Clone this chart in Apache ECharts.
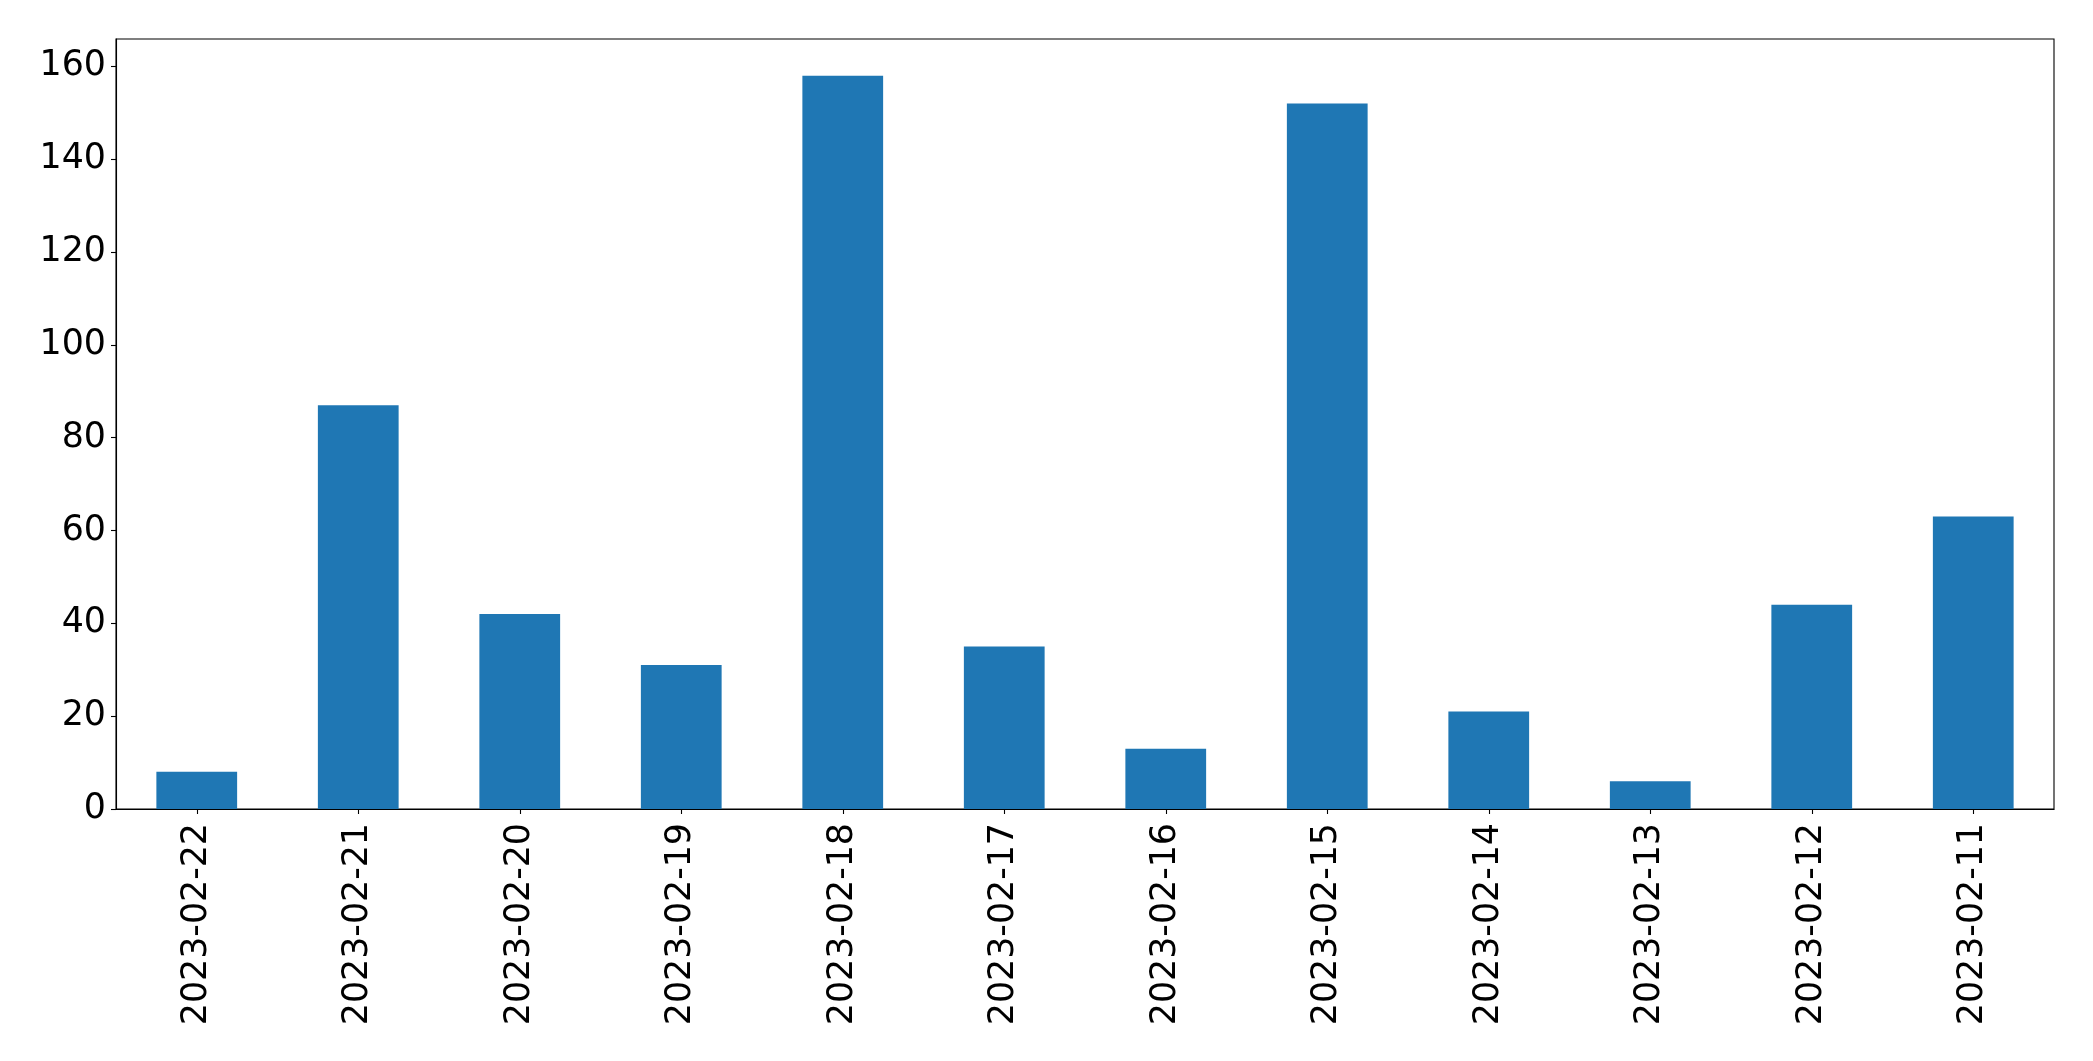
<!DOCTYPE html>
<html>
<head>
<meta charset="utf-8">
<script src="https://cdn.jsdelivr.net/npm/echarts@6/dist/echarts.min.js"></script>
<style>
html,body{margin:0;padding:0;background:#fff;}
#chart{width:2093px;height:1061px;}
</style>
</head>
<body>
<div id="chart"></div>
<script>
const categories = ['2023-02-22','2023-02-21','2023-02-20','2023-02-19','2023-02-18','2023-02-17','2023-02-16','2023-02-15','2023-02-14','2023-02-13','2023-02-12','2023-02-11'];
const values = [8, 87, 42, 31, 158, 35, 13, 152, 21, 6, 44, 63];
const yTicks = [0, 20, 40, 60, 80, 100, 120, 140, 160];
const yMax = 165.9;

const chart = echarts.init(document.getElementById('chart'), null, {renderer: 'canvas'});
const font = 'DejaVu Sans';
chart.setOption({
  animation: false,
  grid: {left: 116, right: 39, top: 39, bottom: 252, show: true, borderColor: '#000', borderWidth: 1.1, backgroundColor: 'transparent'},
  xAxis: {
    type: 'category',
    data: categories,
    boundaryGap: true,
    axisLine: {show: true, lineStyle: {color: '#000', width: 1.1}},
    axisTick: {show: true, alignWithLabel: true, length: 5, lineStyle: {color: '#000', width: 1.1}},
    axisLabel: {rotate: 90, margin: 14, fontFamily: font, fontSize: 34.8, color: '#000', interval: 0},
    splitLine: {show: false}
  },
  yAxis: {
    type: 'value',
    min: 0,
    max: yMax,
    interval: 20,
    axisLine: {show: true, lineStyle: {color: '#000', width: 1.1}},
    axisTick: {show: true, length: 5, lineStyle: {color: '#000', width: 1.1}, customValues: yTicks},
    axisLabel: {margin: 10, fontFamily: font, fontSize: 34.8, color: '#000', customValues: yTicks},
    splitLine: {show: false}
  },
  series: [{
    type: 'bar',
    data: values,
    barCategoryGap: '50%',
    itemStyle: {color: '#1f77b4'}
  }]
});
</script>
</body>
</html>
